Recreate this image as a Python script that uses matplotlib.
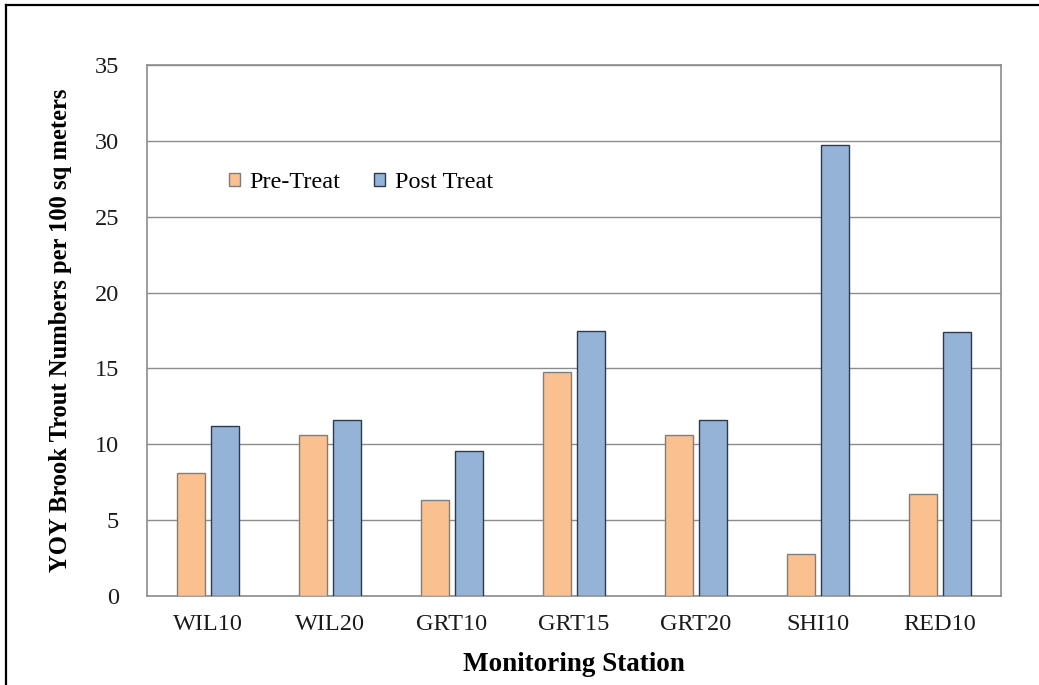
import matplotlib
matplotlib.use("Agg")
import matplotlib.pyplot as plt
import numpy as np
from matplotlib.lines import Line2D

stations = ["WIL10", "WIL20", "GRT10", "GRT15", "GRT20", "SHI10", "RED10"]
pre_treat = [8.1, 10.6, 6.3, 14.75, 10.6, 2.75, 6.7]
post_treat = [11.2, 11.6, 9.55, 17.45, 11.6, 29.75, 17.4]
y_ticks = [0, 5, 10, 15, 20, 25, 30, 35]

plt.rcParams['font.family'] = ['Liberation Serif', 'DejaVu Serif']

W, H = 1039, 685
fig = plt.figure(figsize=(W/100, H/100), dpi=100)
ax = fig.add_axes([147/W, 1-596/H, (1001-147)/W, (596-65)/H])

x = np.arange(len(stations))
bw = 0.23
off = 0.142
ax.bar(x - off, pre_treat, bw, color="#FAC090", edgecolor="#7f7f7f", linewidth=1.0, zorder=3, label="Pre-Treat")
ax.bar(x + off, post_treat, bw, color="#95B3D7", edgecolor="#2b3a4f", linewidth=1.0, zorder=3, label="Post Treat")

ax.set_xlim(-0.5, len(stations) - 0.5)
ax.set_ylim(0, 35)
ax.set_yticks(y_ticks)
ax.set_xticks(x)
ax.set_xticklabels(stations)
ax.tick_params(axis='both', length=0, labelsize=17.5, colors='#1a1a1a')
ax.tick_params(axis='y', pad=20)
ax.tick_params(axis='x', pad=13)
ax.yaxis.grid(True, color="#8c8c8c", linewidth=1.0, zorder=0)
ax.set_axisbelow(True)
for s in ax.spines.values():
    s.set_color("#8c8c8c")
    s.set_linewidth(1.2)

ax.set_ylabel("YOY Brook Trout Numbers per 100 sq meters", fontsize=17.7, fontweight='bold', labelpad=16)
ax.set_xlabel("Monitoring Station", fontsize=19.5, fontweight='bold', labelpad=12)

leg = ax.legend(loc='upper left', bbox_to_anchor=(0.07, 0.84), ncol=2, frameon=False,
                fontsize=17.5, handlelength=0.45, handleheight=0.45, columnspacing=1.4, handletextpad=0.4)

# outer border (left and top only visible)
fig.add_artist(Line2D([6/W, 6/W], [0, 1-4.5/H], color='black', linewidth=1.6, transform=fig.transFigure))
fig.add_artist(Line2D([6/W, 1], [1-4.5/H, 1-4.5/H], color='black', linewidth=1.6, transform=fig.transFigure))

fig.savefig("out.png", dpi=100)
